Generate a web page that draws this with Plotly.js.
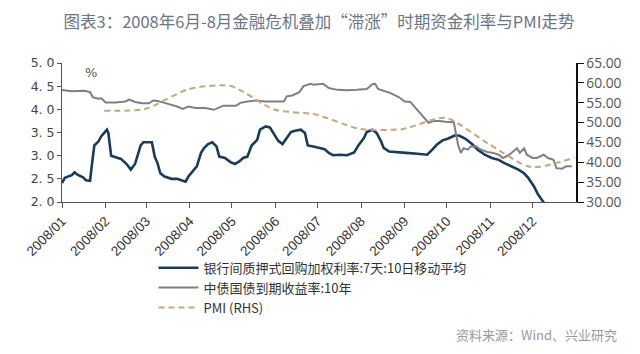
<!DOCTYPE html>
<html>
<head>
<meta charset="utf-8">
<script src="https://cdn.plot.ly/plotly-3.0.1.min.js"></script>
<style>html,body{margin:0;padding:0;background:#fff;}#chart{width:640px;height:354px;}</style>
</head>
<body>
<div id="chart"></div>
<script>
// Repo rate 7-day, 10-day moving average (left axis, %)
const repoDates = ['2008-01-01','2008-01-03','2008-01-08','2008-01-10','2008-01-12','2008-01-16','2008-01-18','2008-01-21','2008-01-22','2008-01-24','2008-01-27','2008-01-29','2008-02-02','2008-02-03','2008-02-05','2008-02-09','2008-02-12','2008-02-16','2008-02-19','2008-02-22','2008-02-24','2008-02-26','2008-02-28','2008-03-05','2008-03-07','2008-03-09','2008-03-11','2008-03-14','2008-03-19','2008-03-23','2008-03-27','2008-03-29','2008-03-31','2008-04-03','2008-04-06','2008-04-09','2008-04-11','2008-04-14','2008-04-17','2008-04-20','2008-04-22','2008-04-26','2008-04-30','2008-05-03','2008-05-06','2008-05-09','2008-05-12','2008-05-15','2008-05-19','2008-05-21','2008-05-25','2008-05-28','2008-05-31','2008-06-03','2008-06-06','2008-06-08','2008-06-12','2008-06-15','2008-06-19','2008-06-22','2008-06-24','2008-06-28','2008-07-03','2008-07-06','2008-07-09','2008-07-12','2008-07-17','2008-07-22','2008-07-27','2008-07-30','2008-08-03','2008-08-05','2008-08-09','2008-08-12','2008-08-15','2008-08-17','2008-08-21','2008-08-27','2008-09-02','2008-09-10','2008-09-17','2008-09-20','2008-09-24','2008-09-28','2008-10-02','2008-10-07','2008-10-10','2008-10-14','2008-10-19','2008-10-23','2008-10-28','2008-11-02','2008-11-07','2008-11-11','2008-11-16','2008-11-21','2008-11-25','2008-11-28','2008-12-02','2008-12-05','2008-12-08','2008-12-10'];
const repoValues = [2.41,2.52,2.58,2.64,2.59,2.53,2.47,2.46,2.73,3.22,3.31,3.42,3.56,3.49,3.00,2.96,2.93,2.82,2.70,2.82,3.02,3.22,3.29,3.29,2.98,2.84,2.62,2.55,2.50,2.50,2.46,2.44,2.55,2.66,2.77,3.06,3.16,3.25,3.29,3.20,2.98,2.95,2.86,2.82,2.87,2.95,2.98,3.22,3.34,3.56,3.63,3.61,3.45,3.32,3.25,3.34,3.51,3.54,3.56,3.49,3.22,3.20,3.17,3.14,3.06,3.01,3.02,3.01,3.07,3.22,3.38,3.51,3.56,3.49,3.32,3.17,3.09,3.07,3.06,3.04,3.02,3.11,3.24,3.33,3.37,3.44,3.43,3.37,3.25,3.13,3.02,2.95,2.91,2.84,2.77,2.70,2.62,2.52,2.34,2.16,2.03,1.95];

// 10-year government bond yield (left axis, %)
const bondDates = ['2008-01-01','2008-01-08','2008-01-17','2008-01-21','2008-01-23','2008-01-27','2008-01-29','2008-02-01','2008-02-08','2008-02-15','2008-02-18','2008-02-22','2008-02-27','2008-03-03','2008-03-06','2008-03-09','2008-03-14','2008-03-19','2008-03-23','2008-03-27','2008-03-31','2008-04-05','2008-04-12','2008-04-18','2008-04-22','2008-04-25','2008-05-04','2008-05-07','2008-05-12','2008-05-18','2008-05-25','2008-06-07','2008-06-09','2008-06-13','2008-06-18','2008-06-21','2008-06-26','2008-06-28','2008-07-05','2008-07-09','2008-07-15','2008-07-22','2008-07-29','2008-08-05','2008-08-09','2008-08-11','2008-08-13','2008-08-17','2008-08-22','2008-08-28','2008-09-01','2008-09-05','2008-09-08','2008-09-12','2008-09-16','2008-09-18','2008-09-22','2008-09-26','2008-09-30','2008-10-06','2008-10-07','2008-10-09','2008-10-11','2008-10-13','2008-10-16','2008-10-18','2008-10-22','2008-10-25','2008-10-30','2008-11-03','2008-11-07','2008-11-10','2008-11-14','2008-11-17','2008-11-20','2008-11-22','2008-11-25','2008-11-27','2008-12-01','2008-12-04','2008-12-09','2008-12-12','2008-12-16','2008-12-18','2008-12-22','2008-12-25','2008-12-29'];
const bondValues = [4.42,4.39,4.40,4.37,4.26,4.23,4.24,4.15,4.15,4.17,4.21,4.16,4.13,4.13,4.19,4.18,4.14,4.10,4.06,4.01,4.06,4.03,4.03,3.99,4.04,4.08,4.08,4.14,4.17,4.19,4.17,4.17,4.28,4.30,4.37,4.50,4.55,4.53,4.55,4.46,4.42,4.41,4.42,4.44,4.54,4.55,4.44,4.40,4.35,4.26,4.17,4.16,4.06,3.92,3.78,3.71,3.75,3.75,3.73,3.72,3.56,3.24,3.06,3.16,3.13,3.20,3.20,3.13,3.08,3.06,3.02,2.95,3.01,3.09,3.16,3.06,3.16,3.02,2.95,2.95,3.02,2.95,2.91,2.73,2.72,2.77,2.77];

// PMI (right axis)
const pmiDates = ['2008-01-31','2008-02-29','2008-03-31','2008-04-30','2008-05-31','2008-06-30','2008-07-31','2008-08-31','2008-09-30','2008-10-31','2008-11-30','2008-12-31'];
const pmiValues = [53.0,53.4,58.4,59.2,53.3,52.0,48.4,48.4,51.2,44.6,38.8,41.2];

const monthTicks = ['2008-01-01','2008-02-01','2008-03-01','2008-04-01','2008-05-01','2008-06-01','2008-07-01','2008-08-01','2008-09-01','2008-10-01','2008-11-01','2008-12-01'];
const monthLabels = ['2008/01','2008/02','2008/03','2008/04','2008/05','2008/06','2008/07','2008/08','2008/09','2008/10','2008/11','2008/12'];
const leftTicks = [2.0,2.5,3.0,3.5,4.0,4.5,5.0];
const leftLabels = ['2. 0','2. 5','3. 0','3. 5','4. 0','4. 5','5. 0'];
const rightTicks = [30,35,40,45,50,55,60,65];
const rightLabels = ['30.00','35.00','40.00','45.00','50.00','55.00','60.00','65.00'];

const names = ['银行间质押式回购加权利率:7天:10日移动平均','中债国债到期收益率:10年','PMI (RHS)'];

const traces = [
  {x: repoDates, y: repoValues, name: names[0], type: 'scatter', mode: 'lines',
   line: {color: '#1b3b5a', width: 2.6}, yaxis: 'y'},
  {x: bondDates, y: bondValues, name: names[1], type: 'scatter', mode: 'lines',
   line: {color: '#808080', width: 2}, yaxis: 'y'},
  {x: pmiDates, y: pmiValues, name: names[2], type: 'scatter', mode: 'lines',
   line: {color: '#c8a57a', width: 2, dash: '6px,4px', shape: 'spline', smoothing: 0.7}, yaxis: 'y2'}
];

const cjk = '"Noto Sans CJK SC", "Noto Sans", sans-serif';

const layout = {
  width: 640, height: 354,
  margin: {l: 62, r: 64, t: 63, b: 152},
  paper_bgcolor: '#fff', plot_bgcolor: '#fff',
  showlegend: true,
  title: {text: '图表3：2008年6月-8月金融危机叠加“滞涨”时期资金利率与PMI走势',
          font: {family: cjk, size: 16.5, color: '#6b7684'},
          x: 0.5, xref: 'paper', xanchor: 'center', y: 0.938, yref: 'container', yanchor: 'middle'},
  xaxis: {type: 'date', range: ['2008-01-01','2009-01-01'],
          tickvals: monthTicks, ticktext: monthLabels, tickangle: -45,
          tickfont: {family: 'Liberation Sans, Arial, sans-serif', size: 13.5, color: '#333'},
          showgrid: false, zeroline: false, showline: true, linecolor: '#555', linewidth: 1,
          ticks: 'outside', ticklen: 5, tickcolor: '#555'},
  yaxis: {range: [2, 5], tickvals: leftTicks, ticktext: leftLabels,
          tickfont: {family: 'DejaVu Sans, sans-serif', size: 12.5, color: '#444'},
          showgrid: false, zeroline: false, showline: true, linecolor: '#555', linewidth: 1,
          ticks: 'outside', ticklen: 4, tickcolor: '#555'},
  yaxis2: {range: [30, 65], overlaying: 'y', side: 'right', tickvals: rightTicks, ticktext: rightLabels,
           tickfont: {family: 'Open Sans, Liberation Sans, sans-serif', size: 13.8, color: '#555'},
           showgrid: false, zeroline: false, showline: true, linecolor: '#111', linewidth: 1.5,
           ticks: 'outside', ticklen: 6, tickcolor: '#111'},
  legend: {x: 0.178, y: -0.365, xanchor: 'left', yanchor: 'top', orientation: 'v',
           font: {family: cjk, size: 13, color: '#333'}, bgcolor: 'rgba(0,0,0,0)',
           itemwidth: 40, tracegroupgap: 0},
  annotations: [
    {text: '%', xref: 'paper', yref: 'paper', x: 0.04, y: 0.93, showarrow: false,
     font: {family: 'DejaVu Sans, sans-serif', size: 13, color: '#555'}, xanchor: 'left', yanchor: 'middle'},
    {text: '资料来源：Wind、兴业研究', xref: 'paper', yref: 'paper', x: 1.083, y: -0.955, showarrow: false,
     font: {family: cjk, size: 13, color: '#9a9a9a'}, xanchor: 'right', yanchor: 'middle'}
  ]
};

Plotly.newPlot('chart', traces, layout, {displayModeBar: false, staticPlot: true});
</script>
</body>
</html>
